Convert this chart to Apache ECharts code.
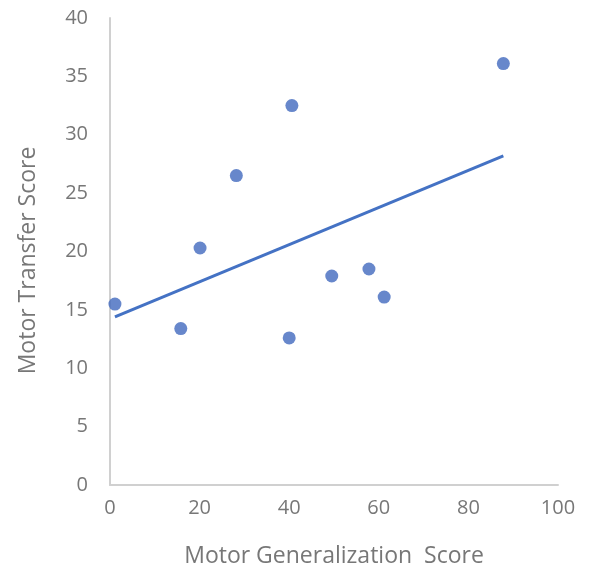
<!DOCTYPE html>
<html>
<head>
<meta charset="utf-8">
<script src="https://cdn.jsdelivr.net/npm/echarts@6/dist/echarts.min.js"></script>
<style>html,body{margin:0;padding:0;background:#fff;}#c{width:594px;height:573px;}</style>
</head>
<body>
<div id="c"></div>
<script>
var generalization = [1.1, 15.8, 20.1, 28.2, 40.6, 40.0, 49.5, 57.8, 61.2, 87.8];
var transfer = [15.5, 13.4, 20.3, 26.5, 32.5, 12.6, 17.9, 18.5, 16.1, 36.1];
var trendX = [1.1, 87.8];
var trendY = [14.4, 28.2];
var xTicks = [0, 20, 40, 60, 80, 100];
var yTicks = [0, 5, 10, 15, 20, 25, 30, 35, 40];

var pts = generalization.map(function (x, i) { return [x, transfer[i]]; });
var trend = trendX.map(function (x, i) { return [x, trendY[i]]; });
var font = '"Open Sans", Lato, sans-serif';
var chart = echarts.init(document.getElementById('c'));
chart.setOption({
  animation: false,
  grid: { left: 110, right: 36, top: 18, bottom: 88 },
  xAxis: {
    type: 'value', min: xTicks[0], max: xTicks[xTicks.length - 1], interval: 20,
    name: 'Motor Generalization  Score', nameLocation: 'middle', nameGap: 60,
    nameTextStyle: { color: '#777777', fontSize: 23, fontFamily: font },
    axisLine: { show: true, lineStyle: { color: '#d0d0d0', width: 2 } },
    axisTick: { show: false },
    splitLine: { show: false },
    axisLabel: { color: '#777777', fontSize: 20, fontFamily: font, margin: 13 }
  },
  yAxis: {
    type: 'value', min: yTicks[0], max: yTicks[yTicks.length - 1], interval: 5,
    name: 'Motor Transfer Score', nameLocation: 'middle', nameGap: 70,
    nameTextStyle: { color: '#777777', fontSize: 23, fontFamily: font, padding: [0, 18, 0, 0] },
    axisLine: { show: true, lineStyle: { color: '#d0d0d0', width: 2 } },
    axisTick: { show: false },
    splitLine: { show: false },
    axisLabel: { color: '#777777', fontSize: 20, fontFamily: font, margin: 22 }
  },
  series: [
    {
      type: 'line', data: trend, symbol: 'none', silent: true,
      lineStyle: { color: '#4472C4', width: 3 }
    },
    {
      type: 'scatter', data: pts, symbolSize: 13,
      itemStyle: { color: '#4169BE' }
    }
  ]
});
</script>
</body>
</html>
